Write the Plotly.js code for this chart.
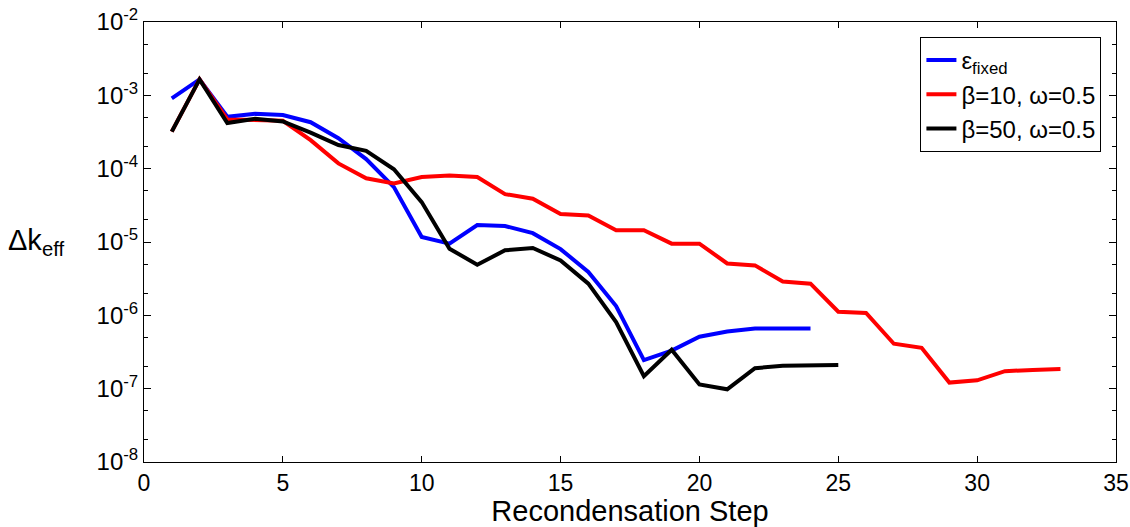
<!DOCTYPE html>
<html>
<head>
<meta charset="utf-8">
<script src="https://cdn.plot.ly/plotly-3.0.1.min.js"></script>
<style>html,body{margin:0;padding:0;background:#fff;}#chart{width:1130px;height:527px;}</style>
</head>
<body>
<div id="chart"></div>
<script>
const stepsFixed = [1,2,3,4,5,6,7,8,9,10,11,12,13,14,15,16,17,18,19,20,21,22,23,24];
const epsFixed = [9.1e-4,1.65e-3,5.1e-4,5.6e-4,5.4e-4,4.3e-4,2.6e-4,1.35e-4,5.6e-5,1.17e-5,9.5e-6,1.7e-5,1.65e-5,1.32e-5,8.0e-6,3.9e-6,1.34e-6,2.45e-7,3.3e-7,5.1e-7,6.0e-7,6.6e-7,6.6e-7,6.6e-7];

const stepsB10 = [1,2,3,4,5,6,7,8,9,10,11,12,13,14,15,16,17,18,19,20,21,22,23,24,25,26,27,28,29,30,31,32,33];
const beta10 = [3.2e-4,1.65e-3,4.7e-4,4.6e-4,4.5e-4,2.45e-4,1.18e-4,7.4e-5,6.3e-5,7.7e-5,8.1e-5,7.7e-5,4.5e-5,3.9e-5,2.4e-5,2.3e-5,1.45e-5,1.45e-5,9.5e-6,9.5e-6,5.1e-6,4.8e-6,2.9e-6,2.7e-6,1.12e-6,1.08e-6,4.1e-7,3.6e-7,1.21e-7,1.3e-7,1.73e-7,1.8e-7,1.85e-7];

const stepsB50 = [1,2,3,4,5,6,7,8,9,10,11,12,13,14,15,16,17,18,19,20,21,22,23,24,25];
const beta50 = [3.2e-4,1.65e-3,4.2e-4,4.8e-4,4.4e-4,3.1e-4,2.1e-4,1.75e-4,9.8e-5,3.5e-5,8.1e-6,4.9e-6,7.7e-6,8.3e-6,5.6e-6,2.7e-6,8.1e-7,1.48e-7,3.4e-7,1.14e-7,9.8e-8,1.9e-7,2.05e-7,2.1e-7,2.1e-7];

const seriesNames = ['ε<sub>fixed</sub>', 'β=10, ω=0.5', 'β=50, ω=0.5'];
const yTickVals = [1e-8,1e-7,1e-6,1e-5,1e-4,1e-3,1e-2];
const yTickText = ['10<sup>-8</sup>','10<sup>-7</sup>','10<sup>-6</sup>','10<sup>-5</sup>','10<sup>-4</sup>','10<sup>-3</sup>','10<sup>-2</sup>'];

const font = 'Liberation Sans, Arial, sans-serif';
const traces = [
  {x: stepsFixed, y: epsFixed, name: seriesNames[0], mode: 'lines', line: {color: '#0000ff', width: 4}},
  {x: stepsB10, y: beta10, name: seriesNames[1], mode: 'lines', line: {color: '#ff0000', width: 4}},
  {x: stepsB50, y: beta50, name: seriesNames[2], mode: 'lines', line: {color: '#000000', width: 4}}
];

const layout = {
  width: 1130, height: 527,
  margin: {l: 144, r: 14, t: 22, b: 65},
  paper_bgcolor: '#fff', plot_bgcolor: '#fff',
  font: {family: font, size: 22, color: '#000'},
  showlegend: true,
  legend: {
    x: 0.985, y: 0.966, xanchor: 'right', yanchor: 'top',
    bordercolor: '#000', borderwidth: 1, bgcolor: '#fff',
    font: {family: font, size: 24, color: '#000'},
    tracegroupgap: 0
  },
  xaxis: {
    range: [0, 35], dtick: 5, tick0: 0,
    showgrid: false, zeroline: false,
    showline: true, linecolor: '#000', linewidth: 1, mirror: 'ticks',
    ticks: 'inside', ticklen: 6, tickcolor: '#000',
    tickfont: {family: font, size: 23},
    title: {text: 'Recondensation Step', font: {family: font, size: 29}, standoff: 2}
  },
  yaxis: {
    type: 'log', range: [-8, -2],
    tickvals: yTickVals, ticktext: yTickText,
    showgrid: false, zeroline: false,
    showline: true, linecolor: '#000', linewidth: 1, mirror: 'ticks',
    ticks: 'inside', ticklen: 7, tickcolor: '#000',
    tickfont: {family: font, size: 24},
    minor: {ticks: 'inside', ticklen: 4, tickcolor: '#000', showgrid: false}
  },
  annotations: [{
    text: 'Δk<sub>eff</sub>', xref: 'paper', yref: 'paper',
    x: -0.142, y: 0.5, xanchor: 'left', yanchor: 'middle',
    showarrow: false, font: {family: font, size: 29, color: '#000'}
  }]
};

Plotly.newPlot('chart', traces, layout, {displayModeBar: false, staticPlot: true});
</script>
</body>
</html>
